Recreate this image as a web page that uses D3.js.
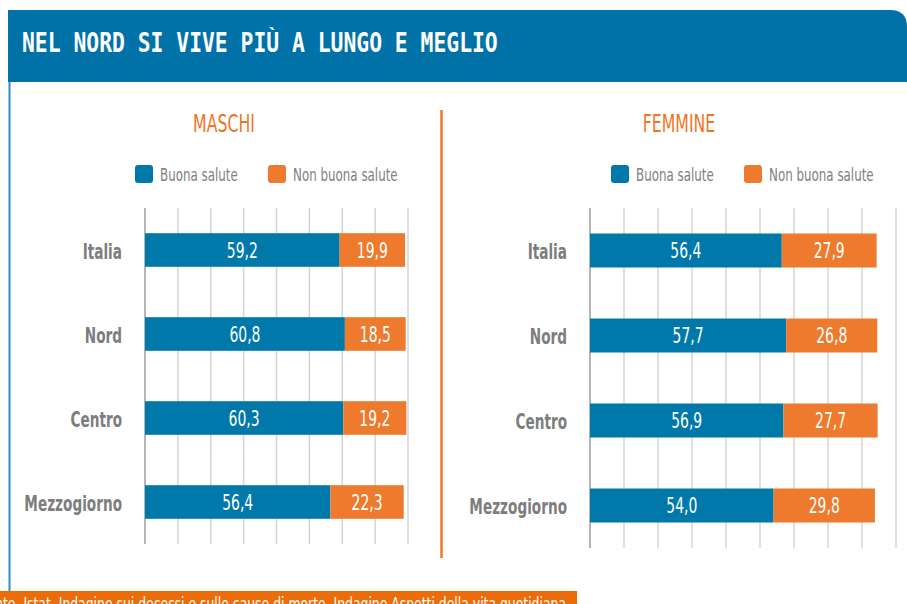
<!DOCTYPE html>
<html>
<head>
<meta charset="utf-8">
<script src="https://cdn.jsdelivr.net/npm/d3@7"></script>
<style>
  body { margin: 0; background: #fff; }
  svg text { font-family: "DejaVu Sans", sans-serif; }
</style>
</head>
<body>
<div id="d3-container"></div>
<script>
const width = 907
const height = 604

const categories = ["Italia", "Nord", "Centro", "Mezzogiorno"]
const seriesNames = ["Buona salute", "Non buona salute"]
const maschiBuona = [59.2, 60.8, 60.3, 56.4]
const maschiNonBuona = [19.9, 18.5, 19.2, 22.3]
const femmineBuona = [56.4, 57.7, 56.9, 54.0]
const femmineNonBuona = [27.9, 26.8, 27.7, 29.8]
const maschiTicks = [0, 10, 20, 30, 40, 50, 60, 70, 80]
const femmineTicks = [0, 10, 20, 30, 40, 50, 60, 70, 80, 90]

const blue = "#0079aa"
const orange = "#ed7a2d"
const fmt = v => d3.format(".1f")(v).replace(".", ",")

// no condensed face installed, so squeeze text horizontally
const NARROW = 0.66
const NARROW_BOLD = 0.62
const place = (sel, fx, fy, sx) =>
  sel.attr("transform", (d, i) => `translate(${fx(d, i)},${fy(d, i)}) scale(${sx},1)`)

const svg = d3.select("#d3-container")
  .append("svg")
  .attr("width", width)
  .attr("height", height)

// header band with rounded top-right corner
const r = 17
svg.append("path")
  .attr("d", `M8,10 H${width - r} Q${width},10 ${width},${10 + r} V82 H8 Z`)
  .attr("fill", "#0072a7")

svg.append("text")
  .attr("transform", "translate(22,52) scale(0.822,1)")
  .attr("fill", "#fff")
  .style("font-family", "'DejaVu Sans Mono', monospace")
  .style("font-weight", "bold")
  .style("font-size", "26px")
  .text("NEL NORD SI VIVE PIÙ A LUNGO E MEGLIO")

// left frame line
svg.append("line")
  .attr("x1", 9.5).attr("x2", 9.5)
  .attr("y1", 82).attr("y2", height)
  .attr("stroke", "#2f8cc4")
  .attr("stroke-width", 2)

// divider
svg.append("line")
  .attr("x1", 441.5).attr("x2", 441.5)
  .attr("y1", 110).attr("y2", 558)
  .attr("stroke", orange)
  .attr("stroke-width", 2.5)

function panel(cfg) {
  const g = svg.append("g")

  const x = d3.scaleLinear()
    .domain([0, d3.max(cfg.ticks)])
    .range(cfg.xRange)

  const y = d3.scaleBand()
    .domain(categories)
    .range(cfg.yRange)
    .paddingInner(0.6)
    .paddingOuter(0.3)

  g.append("text")
    .call(place, () => cfg.titleX, () => 132, 0.63)
    .attr("text-anchor", "middle")
    .attr("fill", "#ee7623")
    .style("font-size", "25px")
    .text(cfg.title)

  // legend
  const leg = g.selectAll("g.leg")
    .data(seriesNames)
    .join("g")
    .attr("class", "leg")
    .attr("transform", (d, i) => `translate(${cfg.legendX[i]},165)`)
  leg.append("rect")
    .attr("width", 18).attr("height", 18)
    .attr("rx", 3)
    .attr("fill", (d, i) => i === 0 ? blue : orange)
  leg.append("text")
    .call(place, () => 25, () => 16, NARROW)
    .attr("fill", "#808080")
    .style("font-size", "18px")
    .text(d => d)

  // gridlines
  g.selectAll("line.grid")
    .data(cfg.ticks)
    .join("line")
    .attr("class", "grid")
    .attr("x1", d => x(d)).attr("x2", d => x(d))
    .attr("y1", cfg.yRange[0]).attr("y2", cfg.yRange[1])
    .attr("stroke", d => d === 0 ? "#b5b5b5" : "#d4d4d4")
    .attr("stroke-width", d => d === 0 ? 2 : 1.5)

  // category labels
  g.selectAll("text.cat")
    .data(categories)
    .join("text")
    .attr("class", "cat")
    .call(place, () => x(0) - 23, d => y(d) + y.bandwidth() / 2 + 8.5, NARROW_BOLD)
    .attr("text-anchor", "end")
    .attr("fill", "#7d7d7d")
    .style("font-weight", "bold")
    .style("font-size", "22px")
    .text(d => d)

  const rows = categories.map((c, i) => ({ c, a: cfg.buona[i], b: cfg.nonBuona[i] }))

  g.selectAll("rect.buona")
    .data(rows)
    .join("rect")
    .attr("class", "buona")
    .attr("x", x(0))
    .attr("y", d => y(d.c))
    .attr("width", d => x(d.a) - x(0))
    .attr("height", y.bandwidth())
    .attr("fill", blue)

  g.selectAll("rect.nonbuona")
    .data(rows)
    .join("rect")
    .attr("class", "nonbuona")
    .attr("x", d => x(d.a))
    .attr("y", d => y(d.c))
    .attr("width", d => x(d.a + d.b) - x(d.a))
    .attr("height", y.bandwidth())
    .attr("fill", orange)

  g.selectAll("text.va")
    .data(rows)
    .join("text")
    .attr("class", "va")
    .call(place, d => (x(0) + x(d.a)) / 2, d => y(d.c) + y.bandwidth() / 2 + 7.5, 0.68)
    .attr("text-anchor", "middle")
    .attr("fill", "#fff")
    .style("font-size", "20.5px")
    .text(d => fmt(d.a))

  g.selectAll("text.vb")
    .data(rows)
    .join("text")
    .attr("class", "vb")
    .call(place, d => (x(d.a) + x(d.a + d.b)) / 2, d => y(d.c) + y.bandwidth() / 2 + 7.5, 0.68)
    .attr("text-anchor", "middle")
    .attr("fill", "#fff")
    .style("font-size", "20.5px")
    .text(d => fmt(d.b))
}

panel({
  title: "MASCHI", titleX: 224,
  legendX: [135, 268],
  xRange: [145, 408], yRange: [208, 544],
  ticks: maschiTicks,
  buona: maschiBuona, nonBuona: maschiNonBuona
})

panel({
  title: "FEMMINE", titleX: 679,
  legendX: [611, 744],
  xRange: [590, 896], yRange: [208, 548],
  ticks: femmineTicks,
  buona: femmineBuona, nonBuona: femmineNonBuona
})

// source band, clipped at the left and bottom edges as in the original
svg.append("rect")
  .attr("x", 0).attr("y", 591)
  .attr("width", 577).attr("height", 20)
  .attr("fill", "#ec6c0a")

svg.append("text")
  .attr("transform", "translate(566,609.5) scale(0.73,1)")
  .attr("text-anchor", "end")
  .attr("fill", "#fff")
  .style("font-size", "17px")
  .text("Fonte. Istat, Indagine sui decessi e sulle cause di morte, Indagine Aspetti della vita quotidiana")
</script>
</body>
</html>
